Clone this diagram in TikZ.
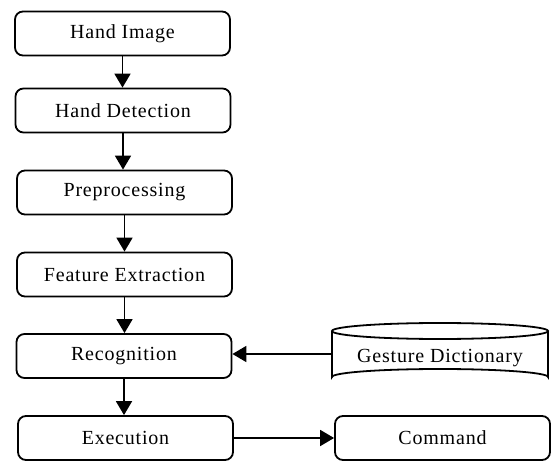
\documentclass[tikz,border=0pt]{standalone}
\usepackage{fontspec}
\setmainfont{Liberation Serif}
\newfontfamily\boxfont[LetterSpace=4]{Liberation Serif}
\usetikzlibrary{arrows.meta}
\begin{document}
\begin{tikzpicture}[x=1pt,y=-1pt,
  lbl/.style={font=\boxfont\fontsize{20}{22}\selectfont},
  proc/.style={lbl, draw, line width=1.8pt, rounded corners=8pt, minimum width=215pt, minimum height=44pt, inner sep=0pt},
  conn/.style={line width=1.8pt, -{Triangle[width=16pt,length=14pt]}}]
\useasboundingbox (0,0) rectangle (557,462);
\node[proc] (img) at (122.5,33.5) {Hand Image};
\node[proc] (det) at (123,110.5) {Hand Detection};
\node[proc] (pre) at (124.5,192.5) {Preprocessing};
\node[proc] (fe) at (124.5,274.5) {Feature Extraction};
\node[proc] (rec) at (124,356) {Recognition};
\node[proc] (exe) at (125.5,438) {Execution};
\node[proc] (cmd) at (442.5,438) {Command};
\node[minimum width=216pt, minimum height=62pt, inner sep=0pt] (gd) at (440,354) {};
\draw[line width=1.8pt] (332,331) -- (332,377) arc[start angle=180, end angle=360, x radius=108pt, y radius=-8pt] -- (548,331)
  (440,331) ellipse[x radius=108pt, y radius=8pt];
\node[lbl] (gdt) at (440,358) {Gesture Dictionary};
\draw[conn] (img.south) -- (img.south |- det.north);
\draw[conn] (det.south) -- (det.south |- pre.north);
\draw[conn] (pre.south) -- (pre.south |- fe.north);
\draw[conn] (fe.south) -- (fe.south |- rec.north);
\draw[conn] (rec.south) -- (rec.south |- exe.north);
\draw[conn] (gd.west) -- (rec.east |- gd.west);
\draw[conn] (exe.east) -- (cmd.west);
\end{tikzpicture}
\end{document}
